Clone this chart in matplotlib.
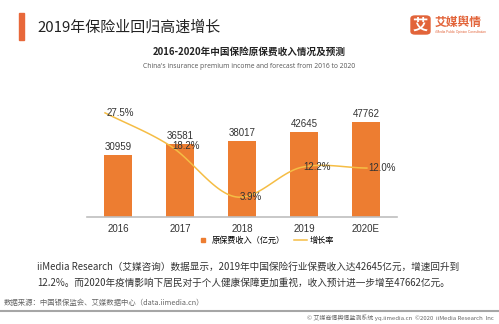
import numpy as np
import matplotlib
matplotlib.use("Agg")
import matplotlib.pyplot as plt
from matplotlib.patches import Rectangle, FancyBboxPatch
from matplotlib.lines import Line2D

# Data
years = ["2016", "2017", "2018", "2019", "2020E"]
income = [30959, 36581, 38017, 42645, 47762]        # 原保费收入（亿元）
growth = [27.5, 18.2, 3.9, 12.2, 12.0]               # 增长率 (%)

BAR_COLOR = "#ED7D31"
LINE_COLOR = "#F5BD45"
CJK = ["Noto Sans CJK SC", "DejaVu Sans"]
LAT = ["Liberation Sans", "Noto Sans CJK SC"]

W, H = 499, 324


def fx(px):
    return px / W


def fy(py):
    return 1 - py / H


def smooth(xs, ys, n=30):
    """Catmull-Rom style curve through the points, like Excel's smoothed line."""
    xs = np.asarray(xs, float)
    ys = np.asarray(ys, float)
    px = np.concatenate([[2 * xs[0] - xs[1]], xs, [2 * xs[-1] - xs[-2]]])
    py = np.concatenate([[2 * ys[0] - ys[1]], ys, [2 * ys[-1] - ys[-2]]])
    out_x, out_y = [], []
    for i in range(1, len(px) - 2):
        t = np.linspace(0, 1, n)
        for p, out in ((px, out_x), (py, out_y)):
            p0, p1, p2, p3 = p[i - 1], p[i], p[i + 1], p[i + 2]
            m1 = (p2 - p0) / 2
            m2 = (p3 - p1) / 2
            h00 = 2 * t**3 - 3 * t**2 + 1
            h10 = t**3 - 2 * t**2 + t
            h01 = -2 * t**3 + 3 * t**2
            h11 = t**3 - t**2
            out.extend(h00 * p1 + h10 * m1 + h01 * p2 + h11 * m2)
    return np.array(out_x), np.array(out_y)


fig = plt.figure(figsize=(W / 100, H / 100), dpi=100)
fig.patch.set_facecolor("white")

# header
fig.patches.append(Rectangle((fx(19), fy(40)), fx(5), 27 / H, transform=fig.transFigure,
                             color="#E8683A", zorder=3))
fig.text(fx(37), fy(27), "2019年保险业回归高速增长", family=CJK, fontsize=10.8,
         color="#222222", va="center", ha="left")

# logo
fig.patches.append(FancyBboxPatch((fx(411), fy(34)), fx(19), 18 / H, transform=fig.transFigure,
                                  boxstyle="round,pad=0,rounding_size=0.008",
                                  color="#E2643A", zorder=3))
fig.text(fx(420.5), fy(25), "艾", family=CJK, fontsize=11, weight="bold", color="white",
         ha="center", va="center", zorder=4)
fig.text(fx(435), fy(22), "艾媒舆情", family=CJK, fontsize=8.5, weight="bold",
         color="#E2643A", ha="left", va="center")
fig.text(fx(435), fy(32), "iiMedia Public Opinion Consultation", family=LAT, fontsize=2.3,
         color="#E2643A", ha="left", va="center")

fig.text(0.5, fy(52), "2016-2020年中国保险原保费收入情况及预测", family=CJK, fontsize=6.9,
         weight="bold", color="#222222", ha="center", va="center")
fig.text(0.5, fy(67), "China's insurance premium income and forecast from 2016 to 2020",
         family=["Open Sans", "DejaVu Sans"], fontsize=4.9, color="#555555",
         ha="center", va="center")

# bar axes
ax_l, ax_r, ax_t, ax_b = 87, 397, 110, 217
rect = [fx(ax_l), fy(ax_b), (ax_r - ax_l) / W, (ax_b - ax_t) / H]
ax = fig.add_axes(rect)
x = np.arange(len(years))
bars = ax.bar(x, income, width=0.44, color=BAR_COLOR, zorder=2)
ax.set_xlim(-0.5, len(years) - 0.5)
ax.set_ylim(0, 53600)
for b, v in zip(bars, income):
    ax.annotate(f"{v}", (b.get_x() + b.get_width() / 2, v), xytext=(0, 2),
                textcoords="offset points", ha="center", va="bottom",
                family=LAT, fontsize=7, color="#333333")
ax.set_xticks(x)
ax.set_xticklabels(years, family=LAT, fontsize=7, color="#333333")
ax.tick_params(axis="x", length=0, pad=5)
ax.set_yticks([])
for s in ["top", "right", "left"]:
    ax.spines[s].set_visible(False)
ax.spines["bottom"].set_color("#BFBFBF")
ax.spines["bottom"].set_linewidth(1.2)
ax.set_facecolor("none")

# growth line on its own axes
ax2 = fig.add_axes(rect)
ax2.set_facecolor("none")
ax2.axis("off")
ax2.set_xlim(-0.275, 4.46)
ax2.set_ylim(-1.74, 28.3)
sx, sy = smooth(x, growth)
ax2.plot(sx, sy, color=LINE_COLOR, lw=1.1, zorder=3)
for xi, g in zip(x, growth):
    ax2.annotate(f"{g:.1f}%", (xi, g), xytext=(11, 0), textcoords="offset points",
                 ha="center", va="center", family=LAT, fontsize=7, color="#333333",
                 zorder=4)

# legend
handles = [Line2D([], [], marker="s", ls="none", color=BAR_COLOR, markersize=3.3),
           Line2D([], [], color=LINE_COLOR, lw=1.1)]
fig.legend(handles, ["原保费收入（亿元）", "增长率"], loc="center", ncol=2,
           bbox_to_anchor=(fx(265), fy(240)), frameon=False, handlelength=1.6,
           handletextpad=0.3, columnspacing=1.1, prop={"family": CJK, "size": 5.9})

# body text
body_color = "#333333"
fig.text(fx(37), fy(267), "iiMedia Research（艾媒咨询）数据显示，2019年中国保险行业保费收入达42645亿元，增速回升到",
         family=CJK, fontsize=6.95, color=body_color, ha="left", va="center")
fig.text(fx(37), fy(283), "12.2%。而2020年疫情影响下居民对于个人健康保障更加重视，收入预计进一步增至47662亿元。",
         family=CJK, fontsize=6.95, color=body_color, ha="left", va="center")

# footer
fig.text(fx(4), fy(303), "数据来源：中国银保监会、艾媒数据中心（data.iimedia.cn）", family=CJK,
         fontsize=5.3, color="#666666", ha="left", va="center")
fig.add_artist(Line2D([0, 1], [fy(311), fy(311)], transform=fig.transFigure,
                      color="#A6A6A6", lw=1.5))
fig.text(fx(494), fy(318), "© 艾媒商情舆情监测系统 yq.iimedia.cn  ©2020  iiMedia Research  Inc",
         family=CJK, fontsize=4.3, color="#666666", ha="right", va="center")

fig.savefig("out.png", dpi=100, facecolor="white")
